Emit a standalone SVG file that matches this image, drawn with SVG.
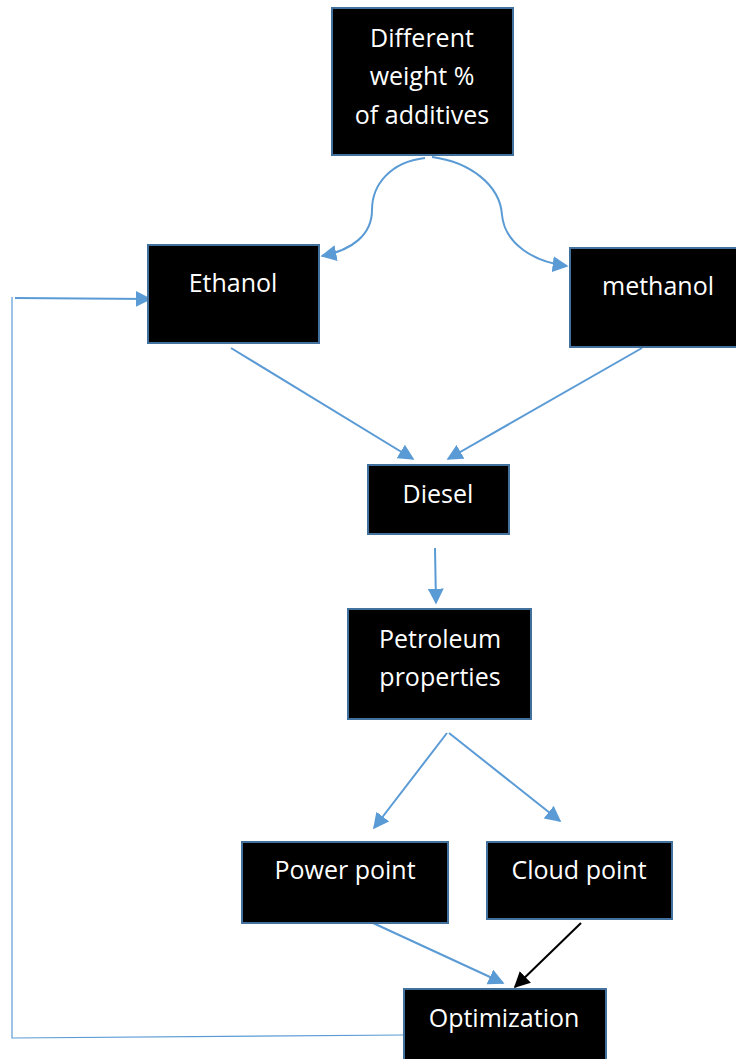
<svg xmlns="http://www.w3.org/2000/svg" width="736" height="1059" viewBox="0 0 736 1059">
<defs>
<style>
.box{fill:#000;stroke:#41719C;stroke-width:2}
.lbl{fill:#fff;font-family:"Open Sans","Liberation Sans",sans-serif;font-size:25px;text-anchor:middle}
.c{fill:none;stroke:#5B9BD5;stroke-width:2}
.thin{fill:none;stroke:#5B9BD5;stroke-width:1.2}
.k{fill:none;stroke:#000;stroke-width:2}
</style>
<marker id="ab2" viewBox="0 0 10 10" refX="9" refY="5" markerWidth="16" markerHeight="16" orient="auto" markerUnits="userSpaceOnUse">
<path d="M0,0 L10,5 L0,10 z" fill="#5B9BD5"/>
</marker>
<marker id="ak" viewBox="0 0 10 10" refX="9" refY="5" markerWidth="16" markerHeight="16" orient="auto" markerUnits="userSpaceOnUse">
<path d="M0,0 L10,5 L0,10 z" fill="#000"/>
</marker>
</defs>
<g id="connectors">
<path class="c" d="M425,158 C390,162 372,185 372,210 C372,235 352,250 322,256" marker-end="url(#ab2)"/>
<path class="c" d="M432,157 C470,162 500,185 502,215 C505,245 535,262 567,266" marker-end="url(#ab2)"/>
<line class="c" x1="231" y1="348" x2="413" y2="459" marker-end="url(#ab2)"/>
<line class="c" x1="642" y1="348" x2="448" y2="459" marker-end="url(#ab2)"/>
<line class="c" x1="435" y1="548" x2="436" y2="603" marker-end="url(#ab2)"/>
<line class="c" x1="447" y1="733" x2="374" y2="828" marker-end="url(#ab2)"/>
<line class="c" x1="449" y1="733" x2="560" y2="821" marker-end="url(#ab2)"/>
<line class="c" x1="373" y1="923" x2="503" y2="983" marker-end="url(#ab2)"/>
<line class="k" x1="581" y1="923" x2="515" y2="987" marker-end="url(#ak)"/>
<polyline class="thin" points="404,1035 12,1038 12,297"/>
<line class="c" x1="15" y1="298" x2="150" y2="299" marker-end="url(#ab2)"/>
</g>
<g id="n-additives">
<rect class="box" x="332" y="8" width="181" height="147"/>
<text class="lbl" x="422" y="47">Different</text>
<text class="lbl" x="422" y="85">weight %</text>
<text class="lbl" x="422" y="124">of additives</text>
</g>
<g id="n-ethanol">
<rect class="box" x="148" y="245" width="171" height="98"/>
<text class="lbl" x="233" y="292">Ethanol</text>
</g>
<g id="n-methanol">
<rect class="box" x="570" y="248" width="168" height="99"/>
<text class="lbl" x="658" y="295">methanol</text>
</g>
<g id="n-diesel">
<rect class="box" x="368" y="465" width="141" height="69"/>
<text class="lbl" x="438" y="503">Diesel</text>
</g>
<g id="n-petroleum">
<rect class="box" x="348" y="609" width="183" height="110"/>
<text class="lbl" x="440" y="648">Petroleum</text>
<text class="lbl" x="440" y="686">properties</text>
</g>
<g id="n-power">
<rect class="box" x="242" y="842" width="206" height="81"/>
<text class="lbl" x="345" y="879">Power point</text>
</g>
<g id="n-cloud">
<rect class="box" x="487" y="842" width="185" height="77"/>
<text class="lbl" x="579" y="879">Cloud point</text>
</g>
<g id="n-optimization">
<rect class="box" x="404" y="989" width="202" height="75"/>
<text class="lbl" x="504" y="1027">Optimization</text>
</g>
</svg>
